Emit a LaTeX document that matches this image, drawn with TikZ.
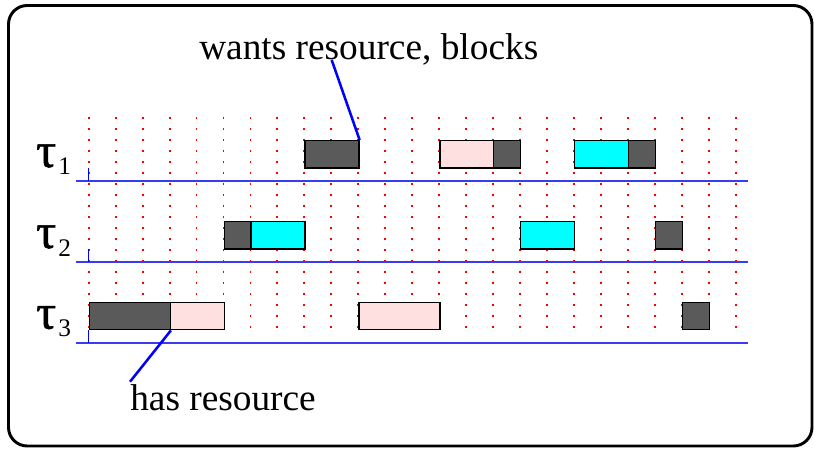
\documentclass[tikz,border=0pt]{standalone}
\usepackage{fontspec}
\setmainfont{Liberation Serif}
\newfontfamily\taufont[FakeBold=1.2]{Liberation Serif}
\definecolor{dk}{HTML}{5A5A5A}
\definecolor{pk}{HTML}{FFE0E0}
\definecolor{cy}{HTML}{00FFFF}
\definecolor{bl}{HTML}{0000FF}
\definecolor{ln}{HTML}{3A3AF0}
\begin{document}
\begin{tikzpicture}[x=0.75pt,y=-0.75pt,
  gridline/.style={red, line width=1.4pt, dash pattern=on 1.6pt off 6.65pt},
  baseline/.style={ln, line width=1.2pt},
  tick/.style={bl, line width=1pt},
  taskbox/.style={draw=black, line width=1pt, inner sep=0pt, minimum height=20.55pt, anchor=north west},
  conn/.style={bl, line width=1.9pt},
  lbl/.style={inner sep=0pt, anchor=base west, font=\fontsize{28}{34}\selectfont},
  taulbl/.style={inner sep=0pt, anchor=base west, font=\taufont\fontsize{37}{40}\selectfont},
  sublbl/.style={inner sep=0pt, anchor=base west, font=\fontsize{19}{22}\selectfont}]
\useasboundingbox (0,0) rectangle (814,449);
\draw[line width=2.2pt, rounded corners=14pt] (8.5,5.5) rectangle (812,446);
% grid
\foreach \i in {0,...,24}
  \draw[gridline] ({88.7+26.96*\i},116.7) -- ({88.7+26.96*\i},336);
% baselines and ticks
\foreach \b in {181,262,342.7}{
  \draw[baseline] (76.3,\b) -- (748.3,\b);
  \draw[tick] (88.7,\b) -- (88.7,\b-13);
}
% boxes
\foreach \nm/\s/\l/\b/\c in {
  aa/8/2/181/dk, ab/13/2/181/pk, ac/15/1/181/dk, ad/18/2/181/cy, ae/20/1/181/dk,
  ba/5/1/262/dk, bb/6/2/262/cy, bc/16/2/262/cy, bd/21/1/262/dk,
  ca/0/3/342.7/dk, cb/3/2/342.7/pk, cc/10/3/342.7/pk, cd/22/1/342.7/dk}
  \node[taskbox, fill=\c, minimum width=\l*20.22pt] (\nm) at ({88.7+26.96*\s},\b-41) {};
% task labels
\node[taulbl] (t1) at (36,167) {τ};
\node[sublbl] (s1) at (58,175) {1};
\node[taulbl] (t2) at (36,248) {τ};
\node[sublbl] (s2) at (58,256) {2};
\node[taulbl] (t3) at (36,328.7) {τ};
\node[sublbl] (s3) at (58,336.7) {3};
% annotations
\node[lbl] (wants) at (199,60) {wants resource, blocks};
\coordinate (wantsend) at (331.7,60);
\draw[conn] (aa.north east) -- (wantsend);
\node[lbl] (has) at (130,410) {has resource};
\coordinate (hasend) at (130,381.7);
\draw[conn] (ca.south east) -- (hasend);
\end{tikzpicture}
\end{document}
